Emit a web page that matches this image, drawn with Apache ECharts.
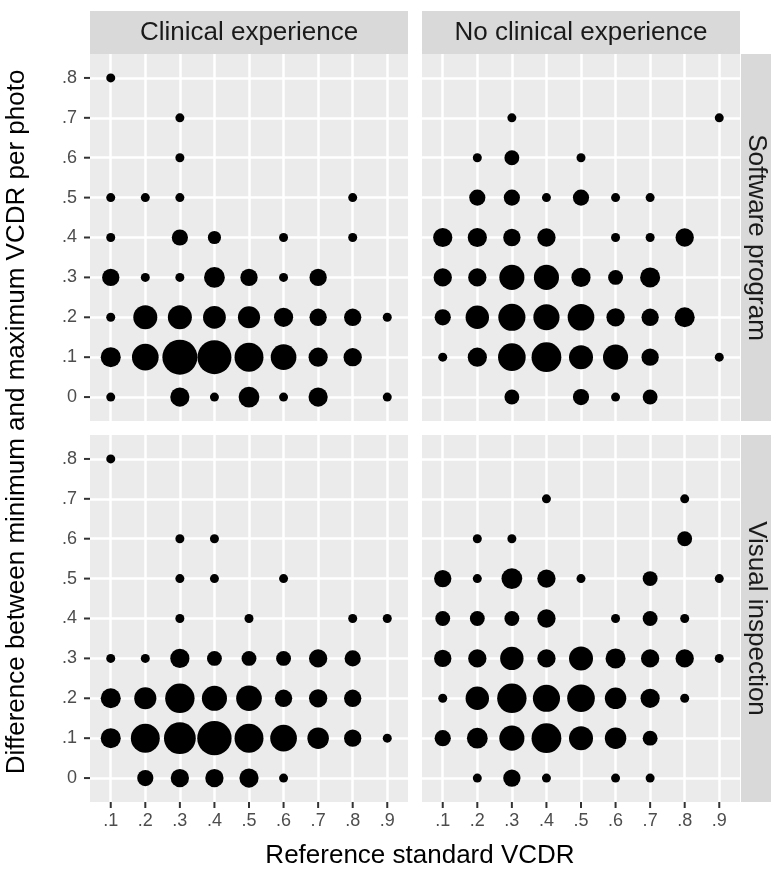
<!DOCTYPE html>
<html>
<head>
<meta charset="utf-8">
<script src="https://cdn.jsdelivr.net/npm/echarts@6/dist/echarts.min.js"></script>
<style>
html, body { margin: 0; padding: 0; background: #fff; }
#chart { width: 771px; height: 869px; }
</style>
</head>
<body>
<div id="chart"></div>
<script>
// facet labels
const colLabels = ['Clinical experience', 'No clinical experience'];
const rowLabels = ['Software program', 'Visual inspection'];
const xTitle = 'Reference standard VCDR';
const yTitle = 'Difference between minimum and maximum VCDR per photo';

const xTicks = [0.1, 0.2, 0.3, 0.4, 0.5, 0.6, 0.7, 0.8, 0.9];
const yTicks = [0, 0.1, 0.2, 0.3, 0.4, 0.5, 0.6, 0.7, 0.8];

// [reference VCDR, difference, number of photos] per panel
const clinicalSoftware = [
  [0.1, 0.8, 1],
  [0.3, 0.7, 1],
  [0.3, 0.6, 1],
  [0.1, 0.5, 1], [0.2, 0.5, 1], [0.3, 0.5, 1], [0.8, 0.5, 1],
  [0.1, 0.4, 1], [0.3, 0.4, 4], [0.4, 0.4, 2], [0.6, 0.4, 1], [0.8, 0.4, 1],
  [0.1, 0.3, 5], [0.2, 0.3, 1], [0.3, 0.3, 1], [0.4, 0.3, 9], [0.5, 0.3, 5], [0.6, 0.3, 1], [0.7, 0.3, 5],
  [0.1, 0.2, 1], [0.2, 0.2, 14], [0.3, 0.2, 14], [0.4, 0.2, 12], [0.5, 0.2, 11], [0.6, 0.2, 7], [0.7, 0.2, 5], [0.8, 0.2, 5], [0.9, 0.2, 1],
  [0.1, 0.1, 8], [0.2, 0.1, 19], [0.3, 0.1, 40], [0.4, 0.1, 37], [0.5, 0.1, 24], [0.6, 0.1, 17], [0.7, 0.1, 7], [0.8, 0.1, 6],
  [0.1, 0, 1], [0.3, 0, 7], [0.4, 0, 1], [0.5, 0, 9], [0.6, 0, 1], [0.7, 0, 7], [0.9, 0, 1]
];
const noClinicalSoftware = [
  [0.3, 0.7, 1], [0.9, 0.7, 1],
  [0.2, 0.6, 1], [0.3, 0.6, 3], [0.5, 0.6, 1],
  [0.2, 0.5, 4], [0.3, 0.5, 4], [0.4, 0.5, 1], [0.5, 0.5, 4], [0.6, 0.5, 1], [0.7, 0.5, 1],
  [0.1, 0.4, 7], [0.2, 0.4, 7], [0.3, 0.4, 5], [0.4, 0.4, 6], [0.6, 0.4, 1], [0.7, 0.4, 1], [0.8, 0.4, 6],
  [0.1, 0.3, 6], [0.2, 0.3, 6], [0.3, 0.3, 16], [0.4, 0.3, 16], [0.5, 0.3, 7], [0.6, 0.3, 3], [0.7, 0.3, 8],
  [0.1, 0.2, 4], [0.2, 0.2, 13], [0.3, 0.2, 20], [0.4, 0.2, 18], [0.5, 0.2, 19], [0.6, 0.2, 6], [0.7, 0.2, 5], [0.8, 0.2, 8],
  [0.1, 0.1, 1], [0.2, 0.1, 7], [0.3, 0.1, 21], [0.4, 0.1, 26], [0.5, 0.1, 14], [0.6, 0.1, 16], [0.7, 0.1, 5], [0.9, 0.1, 1],
  [0.3, 0, 3], [0.5, 0, 4], [0.6, 0, 1], [0.7, 0, 3]
];
const clinicalVisual = [
  [0.1, 0.8, 1],
  [0.3, 0.6, 1], [0.4, 0.6, 1],
  [0.3, 0.5, 1], [0.4, 0.5, 1], [0.6, 0.5, 1],
  [0.3, 0.4, 1], [0.5, 0.4, 1], [0.8, 0.4, 1], [0.9, 0.4, 1],
  [0.1, 0.3, 1], [0.2, 0.3, 1], [0.3, 0.3, 7], [0.4, 0.3, 3], [0.5, 0.3, 3], [0.6, 0.3, 3], [0.7, 0.3, 6], [0.8, 0.3, 4],
  [0.1, 0.2, 8], [0.2, 0.2, 11], [0.3, 0.2, 25], [0.4, 0.2, 16], [0.5, 0.2, 17], [0.6, 0.2, 5], [0.7, 0.2, 6], [0.8, 0.2, 5],
  [0.1, 0.1, 8], [0.2, 0.1, 24], [0.3, 0.1, 31], [0.4, 0.1, 38], [0.5, 0.1, 24], [0.6, 0.1, 19], [0.7, 0.1, 10], [0.8, 0.1, 5], [0.9, 0.1, 1],
  [0.2, 0, 4], [0.3, 0, 6], [0.4, 0, 6], [0.5, 0, 7], [0.6, 0, 1]
];
const noClinicalVisual = [
  [0.4, 0.7, 1], [0.8, 0.7, 1],
  [0.2, 0.6, 1], [0.3, 0.6, 1], [0.8, 0.6, 3],
  [0.1, 0.5, 5], [0.2, 0.5, 1], [0.3, 0.5, 9], [0.4, 0.5, 6], [0.5, 0.5, 1], [0.7, 0.5, 3], [0.9, 0.5, 1],
  [0.1, 0.4, 3], [0.2, 0.4, 3], [0.3, 0.4, 3], [0.4, 0.4, 6], [0.6, 0.4, 1], [0.7, 0.4, 3], [0.8, 0.4, 1],
  [0.1, 0.3, 5], [0.2, 0.3, 6], [0.3, 0.3, 13], [0.4, 0.3, 6], [0.5, 0.3, 14], [0.6, 0.3, 8], [0.7, 0.3, 6], [0.8, 0.3, 6], [0.9, 0.3, 1],
  [0.1, 0.2, 1], [0.2, 0.2, 13], [0.3, 0.2, 25], [0.4, 0.2, 20], [0.5, 0.2, 21], [0.6, 0.2, 10], [0.7, 0.2, 7], [0.8, 0.2, 1],
  [0.1, 0.1, 4], [0.2, 0.1, 9], [0.3, 0.1, 16], [0.4, 0.1, 26], [0.5, 0.1, 14], [0.6, 0.1, 10], [0.7, 0.1, 3],
  [0.2, 0, 1], [0.3, 0, 5], [0.4, 0, 1], [0.6, 0, 1], [0.7, 0, 1]
];

const panels = [clinicalSoftware, noClinicalSoftware, clinicalVisual, noClinicalVisual];

// bubble diameter: area grows with count (like ggplot scale_size)
const MIN_D = 9, MAX_D = 35, N_MAX = 40;
function bubbleSize(n) {
  return MIN_D + (MAX_D - MIN_D) * Math.sqrt((n - 1) / (N_MAX - 1));
}
function tickFmt(v) {
  if (Math.abs(v) < 1e-9) return '0';
  return v.toFixed(1).replace(/^0/, '');
}

const FONT = '"Liberation Sans", Arial, Helvetica, sans-serif';
const PW = 318, PH = 367;
const lefts = [90, 422];
const tops = [54, 435];
const X_MIN = 0.04, X_MAX = 0.96, Y_MIN = -0.06, Y_MAX = 0.86;
const TICK_LEN = 6;

let grids = [], xAxes = [], yAxes = [], series = [];
for (let i = 0; i < 4; i++) {
  const col = i % 2, row = Math.floor(i / 2);
  grids.push({
    left: lefts[col], top: tops[row], width: PW, height: PH,
    show: true, backgroundColor: '#EBEBEB', borderWidth: 0
  });
  xAxes.push({
    type: 'value', gridIndex: i, min: X_MIN, max: X_MAX,
    axisLine: { show: false, onZero: false },
    axisTick: { show: false, customValues: xTicks },
    axisLabel: { show: row === 1, customValues: xTicks, formatter: tickFmt, color: '#4D4D4D', fontSize: 18, margin: 10 },
    splitLine: { show: true, lineStyle: { color: '#FFFFFF', width: 2.5 } }
  });
  yAxes.push({
    type: 'value', gridIndex: i, min: Y_MIN, max: Y_MAX,
    axisLine: { show: false, onZero: false },
    axisTick: { show: false, customValues: yTicks },
    axisLabel: { show: col === 0, customValues: yTicks, formatter: tickFmt, color: '#4D4D4D', fontSize: 18, margin: 13 },
    splitLine: { show: true, lineStyle: { color: '#FFFFFF', width: 2.5 } }
  });
  series.push({
    type: 'scatter', xAxisIndex: i, yAxisIndex: i,
    data: panels[i],
    symbol: 'circle',
    symbolSize: function (val) { return bubbleSize(val[2]); },
    itemStyle: { color: '#000000', opacity: 1 }
  });
}

let graphics = [];
for (let c = 0; c < 2; c++) {
  graphics.push({ type: 'rect', shape: { x: lefts[c], y: 11, width: PW, height: 43 }, style: { fill: '#D9D9D9' } });
  graphics.push({ type: 'text', x: lefts[c] + PW / 2, y: 32.5,
    style: { text: colLabels[c], font: '26px ' + FONT, fill: '#1A1A1A', align: 'center', verticalAlign: 'middle', textAlign: 'center', textVerticalAlign: 'middle' } });
}
for (let r = 0; r < 2; r++) {
  graphics.push({ type: 'rect', shape: { x: 741, y: tops[r], width: 30, height: PH }, style: { fill: '#D9D9D9' } });
  graphics.push({ type: 'text', x: 756, y: tops[r] + PH / 2, rotation: -Math.PI / 2,
    style: { text: rowLabels[r], font: '26px ' + FONT, fill: '#1A1A1A', align: 'center', verticalAlign: 'middle', textAlign: 'center', textVerticalAlign: 'middle' } });
}
graphics.push({ type: 'text', x: 420, y: 856,
  style: { text: xTitle, font: '26px ' + FONT, fill: '#000000', align: 'center', verticalAlign: 'middle', textAlign: 'center', textVerticalAlign: 'middle' } });
graphics.push({ type: 'text', x: 17, y: 422, rotation: Math.PI / 2,
  style: { text: yTitle, font: '26px ' + FONT, fill: '#000000', align: 'center', verticalAlign: 'middle', textAlign: 'center', textVerticalAlign: 'middle' } });

const chart = echarts.init(document.getElementById('chart'));
chart.setOption({
  animation: false,
  grid: grids,
  xAxis: xAxes,
  yAxis: yAxes,
  series: series,
  graphic: graphics
});

// outer tick marks, placed through each panel's own scales
const tickStyle = { stroke: '#333333', lineWidth: 2 };
[2, 3].forEach(function (g) {
  xTicks.forEach(function (v) {
    const p = chart.convertToPixel({ gridIndex: g }, [v, Y_MIN]);
    graphics.push({ type: 'line', shape: { x1: p[0], y1: p[1], x2: p[0], y2: p[1] + TICK_LEN }, style: tickStyle });
  });
});
[0, 2].forEach(function (g) {
  yTicks.forEach(function (v) {
    const p = chart.convertToPixel({ gridIndex: g }, [X_MIN, v]);
    graphics.push({ type: 'line', shape: { x1: p[0] - TICK_LEN, y1: p[1], x2: p[0], y2: p[1] }, style: tickStyle });
  });
});
chart.setOption({ graphic: graphics });
</script>
</body>
</html>
